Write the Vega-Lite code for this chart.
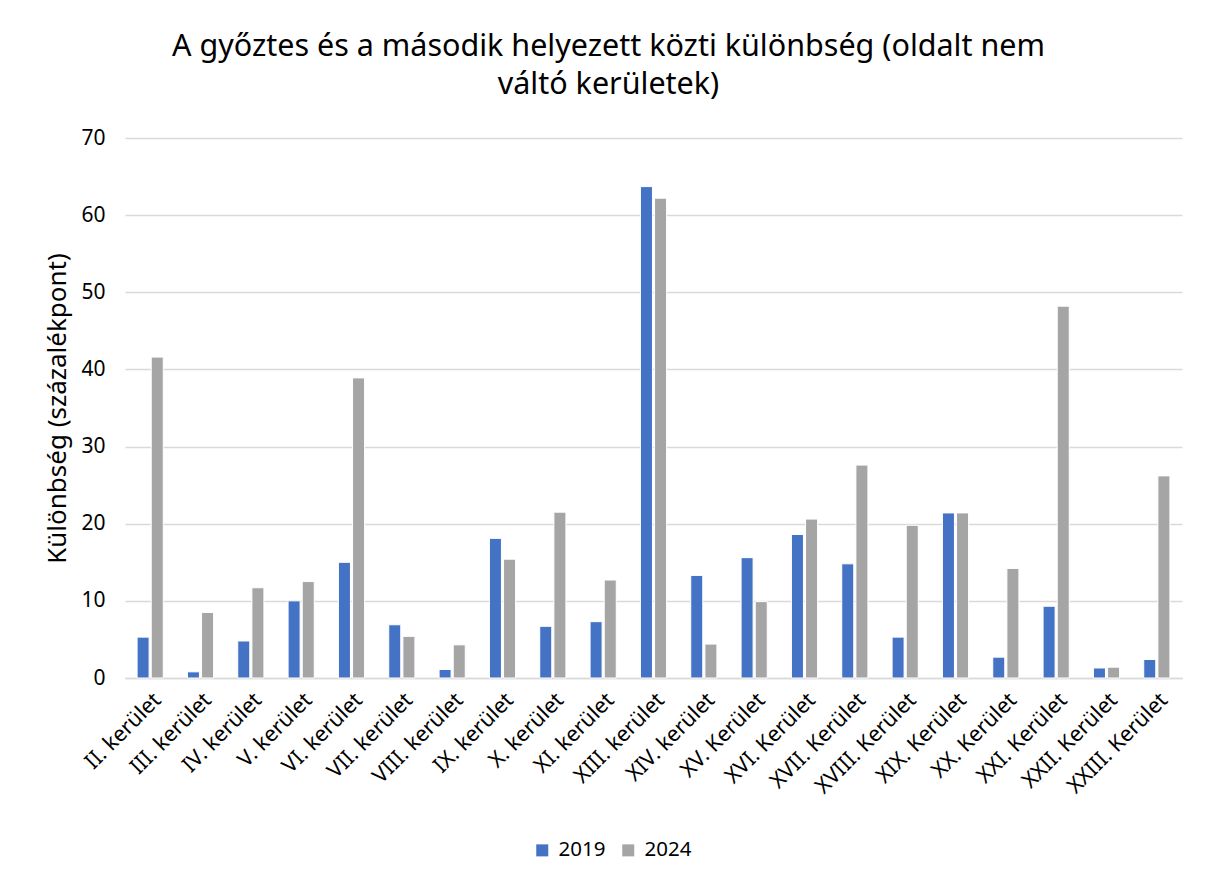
{
  "$schema": "https://vega.github.io/schema/vega-lite/v6.json",
  "autosize": {"type": "none"},
  "width": 1057,
  "height": 540,
  "padding": {"left": 125, "top": 138, "right": 24, "bottom": 208},
  "background": "white",
  "title": {
    "text": ["A győztes és a második helyezett közti különbség (oldalt nem", "váltó kerületek)"],
    "fontSize": 30.5,
    "font": "Noto Sans",
    "fontWeight": "normal",
    "color": "#000000",
    "anchor": "middle",
    "dx": -45,
    "offset": 27,
    "lineHeight": 38
  },
  "data": {
    "values": [
      {"kerulet": "II. kerület", "ev": "2019", "ertek": 5.3},
      {"kerulet": "II. kerület", "ev": "2024", "ertek": 41.6},
      {"kerulet": "III. kerület", "ev": "2019", "ertek": 0.8},
      {"kerulet": "III. kerület", "ev": "2024", "ertek": 8.5},
      {"kerulet": "IV. kerület", "ev": "2019", "ertek": 4.8},
      {"kerulet": "IV. kerület", "ev": "2024", "ertek": 11.7},
      {"kerulet": "V. kerület", "ev": "2019", "ertek": 10.0},
      {"kerulet": "V. kerület", "ev": "2024", "ertek": 12.5},
      {"kerulet": "VI. kerület", "ev": "2019", "ertek": 15.0},
      {"kerulet": "VI. kerület", "ev": "2024", "ertek": 38.9},
      {"kerulet": "VII. kerület", "ev": "2019", "ertek": 6.9},
      {"kerulet": "VII. kerület", "ev": "2024", "ertek": 5.4},
      {"kerulet": "VIII. kerület", "ev": "2019", "ertek": 1.1},
      {"kerulet": "VIII. kerület", "ev": "2024", "ertek": 4.3},
      {"kerulet": "IX. kerület", "ev": "2019", "ertek": 18.1},
      {"kerulet": "IX. kerület", "ev": "2024", "ertek": 15.4},
      {"kerulet": "X. kerület", "ev": "2019", "ertek": 6.7},
      {"kerulet": "X. kerület", "ev": "2024", "ertek": 21.5},
      {"kerulet": "XI. kerület", "ev": "2019", "ertek": 7.3},
      {"kerulet": "XI. kerület", "ev": "2024", "ertek": 12.7},
      {"kerulet": "XIII. kerület", "ev": "2019", "ertek": 63.7},
      {"kerulet": "XIII. kerület", "ev": "2024", "ertek": 62.2},
      {"kerulet": "XIV. kerület", "ev": "2019", "ertek": 13.3},
      {"kerulet": "XIV. kerület", "ev": "2024", "ertek": 4.4},
      {"kerulet": "XV. Kerület", "ev": "2019", "ertek": 15.6},
      {"kerulet": "XV. Kerület", "ev": "2024", "ertek": 9.9},
      {"kerulet": "XVI. Kerület", "ev": "2019", "ertek": 18.6},
      {"kerulet": "XVI. Kerület", "ev": "2024", "ertek": 20.6},
      {"kerulet": "XVII. Kerület", "ev": "2019", "ertek": 14.8},
      {"kerulet": "XVII. Kerület", "ev": "2024", "ertek": 27.6},
      {"kerulet": "XVIII. Kerület", "ev": "2019", "ertek": 5.3},
      {"kerulet": "XVIII. Kerület", "ev": "2024", "ertek": 19.8},
      {"kerulet": "XIX. Kerület", "ev": "2019", "ertek": 21.4},
      {"kerulet": "XIX. Kerület", "ev": "2024", "ertek": 21.4},
      {"kerulet": "XX. Kerület", "ev": "2019", "ertek": 2.7},
      {"kerulet": "XX. Kerület", "ev": "2024", "ertek": 14.2},
      {"kerulet": "XXI. Kerület", "ev": "2019", "ertek": 9.3},
      {"kerulet": "XXI. Kerület", "ev": "2024", "ertek": 48.2},
      {"kerulet": "XXII. Kerület", "ev": "2019", "ertek": 1.3},
      {"kerulet": "XXII. Kerület", "ev": "2024", "ertek": 1.4},
      {"kerulet": "XXIII. Kerület", "ev": "2019", "ertek": 2.4},
      {"kerulet": "XXIII. Kerület", "ev": "2024", "ertek": 26.2}
    ]
  },
  "mark": {"type": "bar", "stroke": "white", "strokeWidth": 1},
  "encoding": {
    "x": {
      "field": "kerulet",
      "type": "nominal",
      "sort": null,
      "scale": {"paddingInner": 0.48, "paddingOuter": 0.24},
      "axis": {
        "title": null,
        "labelAngle": -45,
        "labelFontSize": 21.5,
        "labelFont": "Noto Sans",
        "labelColor": "#000000",
        "labelPadding": 11,
        "ticks": false,
        "domainColor": "#d9d9d9",
        "domainWidth": 1.5,
        "grid": false
      }
    },
    "xOffset": {"field": "ev", "type": "nominal", "scale": {"paddingInner": 0.15}},
    "y": {
      "field": "ertek",
      "type": "quantitative",
      "scale": {"domain": [0, 70]},
      "axis": {
        "title": "Különbség (százalékpont)",
        "titleFontSize": 26,
        "titleFont": "Noto Sans",
        "titleFontWeight": "normal",
        "titleColor": "#000000",
        "titlePadding": 10,
        "values": [0, 10, 20, 30, 40, 50, 60, 70],
        "labelFontSize": 21,
        "labelFont": "Noto Sans",
        "labelColor": "#000000",
        "labelPadding": 20,
        "ticks": false,
        "domain": false,
        "gridColor": "#d9d9d9",
        "gridWidth": 1.5
      }
    },
    "color": {
      "field": "ev",
      "type": "nominal",
      "scale": {"domain": ["2019", "2024"], "range": ["#4472c4", "#a5a5a5"]},
      "legend": {
        "title": null,
        "orient": "none",
        "direction": "horizontal",
        "legendX": 407,
        "legendY": 702,
        "symbolType": "square",
        "symbolSize": 144,
        "symbolStrokeWidth": 0,
        "labelOffset": 6,
        "labelFontSize": 20.5,
        "labelFont": "Noto Sans",
        "labelColor": "#000000",
        "columnPadding": 12
      }
    }
  },
  "config": {"view": {"stroke": null}}
}
